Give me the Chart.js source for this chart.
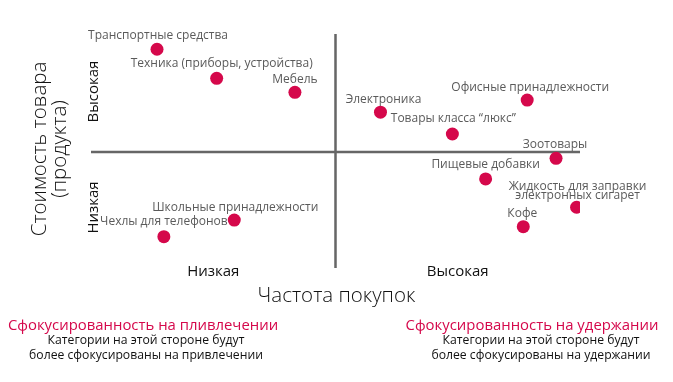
<!DOCTYPE html>
<html>
<head>
<meta charset="utf-8">
<script src="https://cdn.jsdelivr.net/npm/chart.js@4/dist/chart.umd.min.js"></script>
<style>
html,body{margin:0;padding:0;background:#fff;}
#wrap{width:673px;height:382px;position:relative;}
</style>
</head>
<body>
<div id="wrap"><canvas id="c" width="673" height="382"></canvas></div>
<script>
// ---- data ----
const categories = [
  "Транспортные средства",
  "Техника (приборы, устройства)",
  "Мебель",
  "Школьные принадлежности",
  "Чехлы для телефонов",
  "Электроника",
  "Офисные принадлежности",
  "Товары класса “люкс”",
  "Зоотовары",
  "Пищевые добавки",
  "Жидкость для заправки\nэлектронных сигарет",
  "Кофе"
];
const purchaseFrequency = [13.5, 25.7, 41.7, 29.3, 14.9, 59.2, 89.2, 73.9, 95.1, 80.7, 99.3, 88.4];
const productCost       = [93.9, 81.5, 75.5, 20.9, 13.8, 67.0, 72.2, 57.7, 47.3, 38.5, 26.4, 18.1];
const xTickLabels = ["Низкая", "Высокая"];
const yTickLabels = ["Низкая", "Высокая"];
const xAxisTitle = "Частота покупок";
const yAxisTitle = ["Стоимость товара", "(продукта)"];
const leftNote = ["Сфокусированность на пливлечении", "Категории на этой стороне будут", "более сфокусированы на привлечении"];
const rightNote = ["Сфокусированность на удержании", "Категории на этой стороне будут", "более сфокусированы на удержании"];

// ---- layout (label nudges in px, not data) ----
const labelNudge = [[1,-14],[5,-15],[0,-13],[1,-13],[0,-15],[3,-13],[3,-12.5],[1,-15],[-1,-14],[0,-14],[1,-11.5],[-1,-13.5]];

const ACCENT = '#d5084b';
const FONT = '"Open Sans", "Noto Sans", sans-serif';

const quadrantPlugin = {
  id: 'quadrant',
  beforeDatasetsDraw(chart) {
    const {ctx, scales:{x, y}} = chart;
    const cx = x.getPixelForValue(50), cy = y.getPixelForValue(50);
    ctx.save();
    ctx.strokeStyle = '#666';
    ctx.lineWidth = 2.5;
    ctx.beginPath();
    ctx.moveTo(cx, y.getPixelForValue(100) - 1);
    ctx.lineTo(cx, y.getPixelForValue(0) - 1);
    ctx.moveTo(x.getPixelForValue(0), cy);
    ctx.lineTo(x.getPixelForValue(100), cy);
    ctx.stroke();
    ctx.restore();
  },
  afterDatasetsDraw(chart) {
    const {ctx, scales:{x, y}} = chart;
    const meta = chart.getDatasetMeta(0);
    ctx.save();
    ctx.fillStyle = '#5a5a5a';
    ctx.font = '12px ' + FONT;
    ctx.textAlign = 'center';
    ctx.textBaseline = 'middle';
    meta.data.forEach((pt, i) => {
      const lines = categories[i].split('\n');
      const [dx, dy] = labelNudge[i];
      lines.forEach((ln, k) => {
        ctx.fillText(ln, pt.x + dx, pt.y + dy - (lines.length - 1 - k) * 9);
      });
    });

    // axis category labels
    ctx.fillStyle = '#111';
    ctx.font = '500 15px ' + FONT;
    const bottomY = y.getPixelForValue(0);
    ctx.fillText(xTickLabels[0], x.getPixelForValue(25), bottomY + 3);
    ctx.fillText(xTickLabels[1], x.getPixelForValue(75), bottomY + 3);
    const lx = x.getPixelForValue(0) + 3;
    [[yTickLabels[0], 25], [yTickLabels[1], 75]].forEach(([t, v]) => {
      ctx.save();
      ctx.translate(lx, y.getPixelForValue(v) + (v < 50 ? -3 : -2));
      ctx.rotate(-Math.PI / 2);
      ctx.fillText(t, 0, 0);
      ctx.restore();
    });

    // axis titles
    ctx.font = '300 20.5px ' + FONT;
    ctx.fillStyle = '#111';
    ctx.fillText(xAxisTitle, x.getPixelForValue(50) + 1, bottomY + 27);
    ctx.save();
    ctx.translate(40, y.getPixelForValue(50) - 3);
    ctx.rotate(-Math.PI / 2);
    ctx.fillText(yAxisTitle[0], 0, 0);
    ctx.fillText(yAxisTitle[1], 0, 20);
    ctx.restore();

    // notes
    const notes = [[leftNote, 143, 146], [rightNote, 532, 541]];
    notes.forEach(([n, hx, sx]) => {
      ctx.fillStyle = ACCENT;
      ctx.font = '14.9px ' + FONT;
      ctx.fillText(n[0], hx, bottomY + 57);
      ctx.fillStyle = '#111';
      ctx.font = '12.2px ' + FONT;
      ctx.fillText(n[1], sx, bottomY + 72);
      ctx.fillText(n[2], sx, bottomY + 87);
    });
    ctx.restore();
  }
};

const points = purchaseFrequency.map((v, i) => ({x: v, y: productCost[i]}));

new Chart(document.getElementById('c'), {
  type: 'scatter',
  data: {
    datasets: [{
      label: 'Категории',
      data: points,
      backgroundColor: ACCENT,
      borderColor: ACCENT,
      borderWidth: 0,
      pointRadius: 6.5,
      pointHoverRadius: 6.5
    }]
  },
  options: {
    responsive: false,
    animation: false,
    devicePixelRatio: 1,
    layout: { padding: { left: 91, right: 93, top: 35, bottom: 113 } },
    scales: {
      x: { type: 'linear', min: 0, max: 100, display: false },
      y: { type: 'linear', min: 0, max: 100, display: false }
    },
    plugins: {
      legend: { display: false },
      tooltip: { enabled: false },
      title: { display: false }
    }
  },
  plugins: [quadrantPlugin]
});
</script>
</body>
</html>
